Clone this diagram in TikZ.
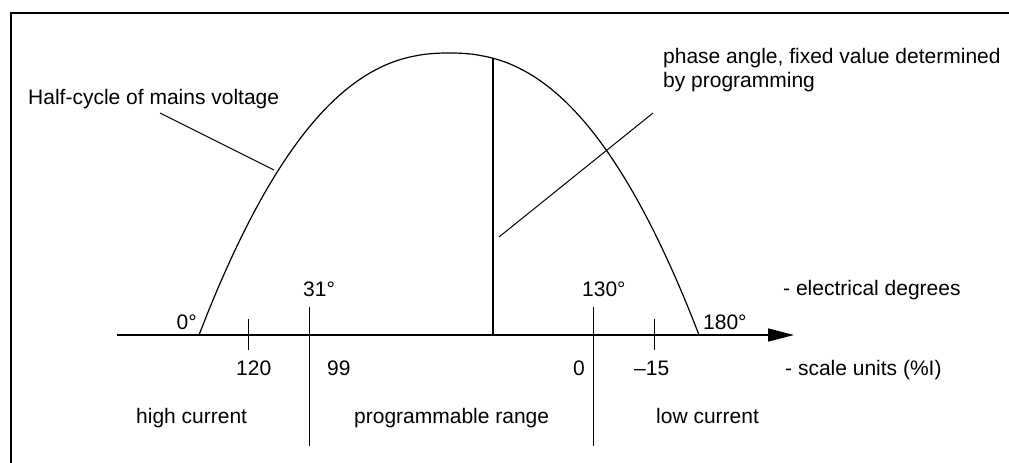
\documentclass[tikz,border=0pt]{standalone}
\usepackage{fontspec}
\setmainfont{Liberation Sans}
\usetikzlibrary{arrows.meta}
\begin{document}
\begin{tikzpicture}[x=1pt,y=-1pt,
  lbl/.style={inner sep=0pt,anchor=base west,font=\fontsize{21}{24}\selectfont},
  thin line/.style={line width=1pt},
  curveline/.style={line width=1.2pt},
  axisline/.style={line width=1.4pt,-{Triangle[length=26pt,width=13pt]}}]
\useasboundingbox (0,0) rectangle (1009,463);
% frame
\draw[line width=2pt] (1009,13) -- (11,13) -- (11,463);
% axis
\coordinate (axstart) at (117,335);
\coordinate (axend) at (794,335);
\draw[axisline] (axstart) -- (axend);
% half cycle
\draw[curveline] plot[domain=-1:1,samples=100,smooth] ({449+250*\x},{335-282*(1-abs(\x)^2.3)});
% phase angle line
\coordinate (phtop) at (493,58);
\coordinate (phbot) at (493,335);
\draw[line width=2.6pt] (phtop) -- (phbot);
% ticks
\coordinate (t120a) at (248,319); \coordinate (t120b) at (248,350);
\coordinate (t15a) at (654,319); \coordinate (t15b) at (654,350);
\coordinate (l31a) at (309,307); \coordinate (l31b) at (309,446);
\coordinate (l130a) at (593,307); \coordinate (l130b) at (593,446);
\draw[thin line] (t120a) -- (t120b);
\draw[thin line] (t15a) -- (t15b);
\draw[thin line] (l31a) -- (l31b);
\draw[thin line] (l130a) -- (l130b);
% labels
\node[lbl] (half) at (28,104) {Half-cycle of mains voltage};
\node[lbl,align=left] (phase) at (663,87) {phase angle, fixed value determined\\by programming};
\node[lbl,anchor=base east] (d0) at (197,329) {0°};
\node[lbl] (d31) at (303,296) {31°};
\node[lbl] (d130) at (582,296) {130°};
\node[lbl] (d180) at (703,329) {180°};
\node[lbl] (eldeg) at (783,295) {- electrical degrees};
\node[lbl] (s120) at (236,375) {120};
\node[lbl] (s99) at (327,375) {99};
\node[lbl] (s0) at (573,375) {0};
\node[lbl] (s15) at (634,375) {–15};
\node[lbl] (sunits) at (785,375) {- scale units (\%I)};
\node[lbl] (high) at (136,423) {high current};
\node[lbl] (prog) at (354,423) {programmable range};
\node[lbl] (low) at (656,423) {low current};
% leaders
\coordinate (halfend) at (274,170);
\coordinate (halfstart) at (160,113);
\coordinate (phstart) at (653,113);
\coordinate (phend) at (499,237);
\draw[thin line] (halfstart) -- (halfend);
\draw[thin line] (phstart) -- (phend);
\end{tikzpicture}
\end{document}
